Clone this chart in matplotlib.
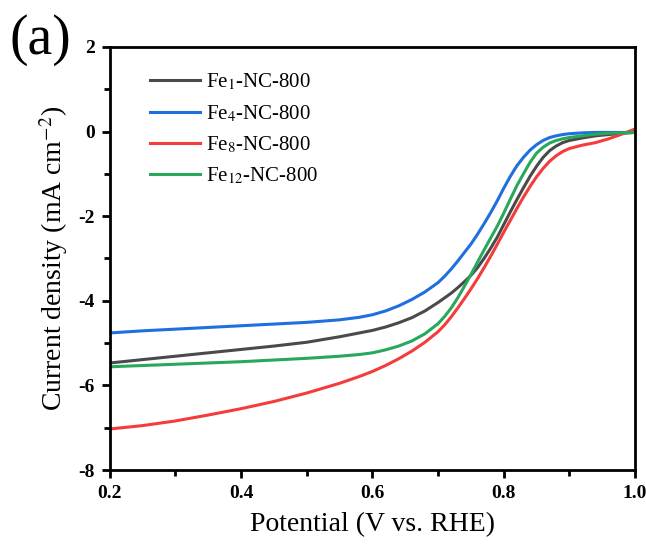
import matplotlib
matplotlib.use('Agg')
from matplotlib import pyplot as plt
from matplotlib.ticker import MultipleLocator

plt.rcParams['font.family'] = ['Liberation Serif', 'DejaVu Serif']
plt.rcParams['mathtext.fontset'] = 'stix'
plt.rcParams['axes.unicode_minus'] = False

# potential (V vs. RHE)
V = [0.2, 0.25, 0.3, 0.35, 0.4, 0.45, 0.5, 0.55, 0.58, 0.6, 0.62, 0.64, 0.66, 0.68,
     0.7, 0.71, 0.72, 0.73, 0.74, 0.75, 0.76, 0.77, 0.78, 0.79, 0.8, 0.81, 0.82, 0.83,
     0.84, 0.85, 0.86, 0.87, 0.88, 0.89, 0.9, 0.92, 0.94, 0.96, 0.98, 1.0]

# current density (mA cm-2)
fe1 = [-5.47, -5.39, -5.31, -5.23, -5.15, -5.07, -4.98, -4.85, -4.76, -4.70, -4.62, -4.52, -4.40, -4.24,
       -4.04, -3.93, -3.82, -3.69, -3.55, -3.40, -3.22, -3.00, -2.76, -2.50, -2.20, -1.90, -1.61, -1.33,
       -1.06, -0.82, -0.61, -0.45, -0.34, -0.26, -0.21, -0.15, -0.10, -0.07, -0.04, -0.02]
fe4 = [-4.76, -4.71, -4.67, -4.63, -4.59, -4.55, -4.51, -4.45, -4.39, -4.33, -4.24, -4.12, -3.97, -3.79,
       -3.57, -3.42, -3.25, -3.06, -2.86, -2.66, -2.43, -2.18, -1.92, -1.64, -1.34, -1.06, -0.81, -0.61,
       -0.44, -0.31, -0.21, -0.14, -0.10, -0.07, -0.05, -0.03, -0.02, -0.02, -0.02, -0.02]
fe8 = [-7.03, -6.95, -6.84, -6.70, -6.55, -6.38, -6.18, -5.95, -5.79, -5.67, -5.53, -5.37, -5.19, -4.98,
       -4.73, -4.57, -4.38, -4.17, -3.95, -3.72, -3.48, -3.22, -2.95, -2.67, -2.38, -2.10, -1.82, -1.55,
       -1.30, -1.07, -0.87, -0.70, -0.57, -0.47, -0.40, -0.32, -0.26, -0.17, -0.06, 0.06]
fe12 = [-5.56, -5.53, -5.50, -5.47, -5.44, -5.40, -5.36, -5.31, -5.27, -5.23, -5.16, -5.07, -4.95, -4.78,
        -4.54, -4.37, -4.17, -3.93, -3.66, -3.38, -3.09, -2.80, -2.52, -2.24, -1.93, -1.60, -1.28, -1.00,
        -0.73, -0.51, -0.37, -0.27, -0.21, -0.17, -0.14, -0.10, -0.06, -0.04, -0.03, -0.02]

labels = ['Fe$_1$-NC-800', 'Fe$_4$-NC-800', 'Fe$_8$-NC-800', 'Fe$_{12}$-NC-800']
colors = ['#4a4a4a', '#1f6fe0', '#f43c3c', '#27a85a']

fig = plt.figure(figsize=(6.46, 5.45), dpi=100)
ax = fig.add_axes([0.170, 0.1376, 0.813, 0.7762])

for y, lab, c in zip([fe1, fe4, fe8, fe12], labels, colors):
  ax.plot(V, y, color=c, lw=2.2, label=lab)

ax.set_xlim(0.2, 1.0)
ax.set_ylim(-8, 2)
ax.xaxis.set_major_locator(MultipleLocator(0.2))
ax.xaxis.set_minor_locator(MultipleLocator(0.1))
ax.yaxis.set_major_locator(MultipleLocator(2))
ax.yaxis.set_minor_locator(MultipleLocator(1))
ax.tick_params(which='both', direction='out', width=2, top=False, right=False)
ax.tick_params(which='major', length=6, labelsize=14, pad=5)
ax.tick_params(which='minor', length=4)
for t in ax.get_xticklabels() + ax.get_yticklabels():
  t.set_fontweight('bold')
for s in ax.spines.values():
  s.set_linewidth(2)

ax.set_xlabel('Potential (V vs. RHE)', fontsize=20, labelpad=7)
ax.set_ylabel('Current density (mA cm$^{-2}$)', fontsize=20, labelpad=6)

ax.legend(loc='upper left', frameon=False, fontsize=15, handlelength=2.4,
          labelspacing=0.5, handletextpad=0.3, bbox_to_anchor=(0.04, 0.985))

fig.text(0.015, 0.927, '(a)', fontsize=40, va='center', ha='left')

plt.savefig('out.png', dpi=100)
